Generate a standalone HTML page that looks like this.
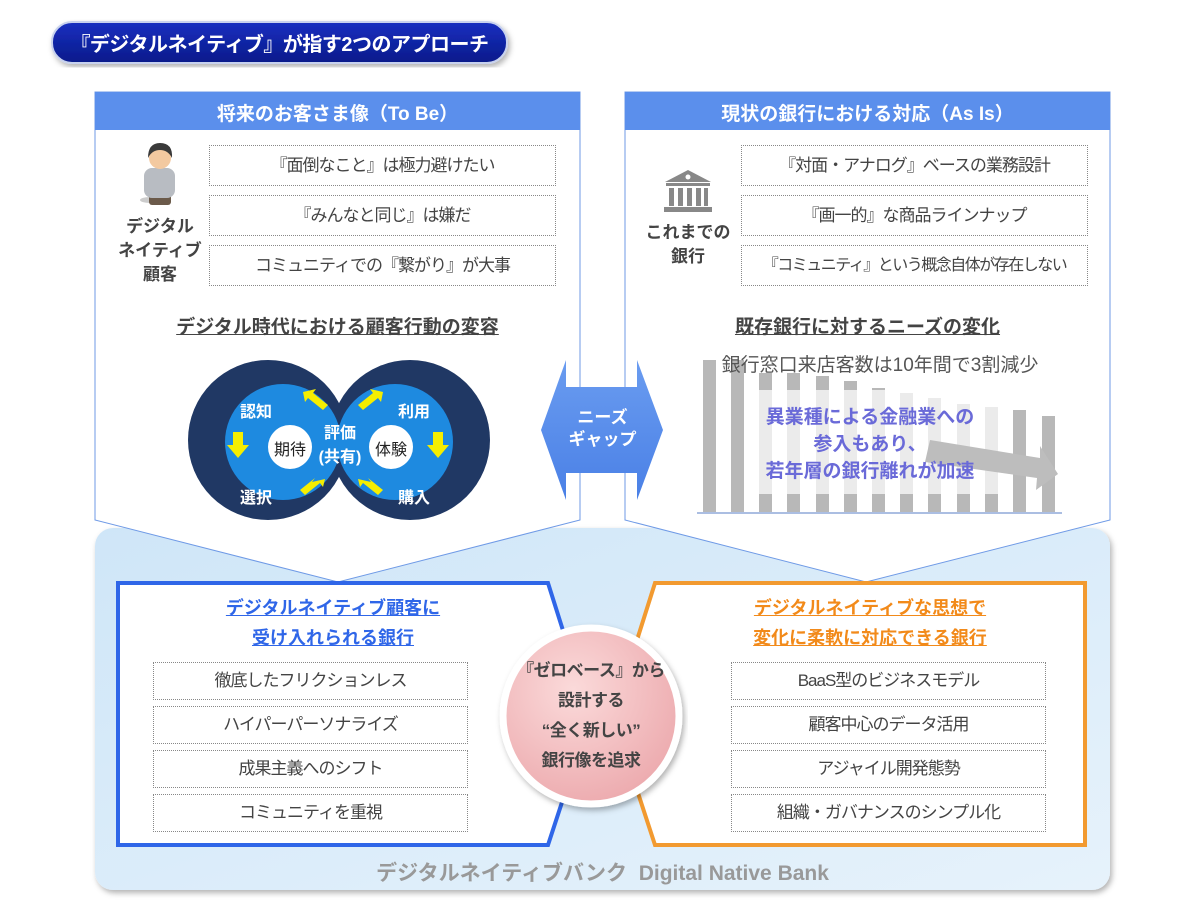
<!DOCTYPE html>
<html><head><meta charset="utf-8">
<style>
*{margin:0;padding:0;box-sizing:border-box}
body{width:1200px;height:913px;background:#fff;position:relative;overflow:hidden;font-family:"Liberation Sans","Noto Sans CJK JP",sans-serif;color:#333}
.a{position:absolute}
.t{position:absolute;white-space:nowrap;text-align:center}
.box{position:absolute;border:1px dotted #888;background:#fff;text-align:center;font-size:17px;color:#444;white-space:nowrap;letter-spacing:-1px}
.b{font-weight:bold}
</style></head><body>
<svg class="a" style="left:0;top:0" width="1200" height="913">
<defs>
<linearGradient id="pill" x1="0" y1="0" x2="0" y2="1"><stop offset="0" stop-color="#1a2fc0"/><stop offset="1" stop-color="#061a8a"/></linearGradient>
<linearGradient id="bg" x1="0" y1="0" x2="1" y2="1"><stop offset="0" stop-color="#cfe6f8"/><stop offset="1" stop-color="#e6f2fb"/></linearGradient>
<radialGradient id="pink" cx="0.4" cy="0.35" r="0.7"><stop offset="0" stop-color="#fbdada"/><stop offset="1" stop-color="#eca9ad"/></radialGradient>
<linearGradient id="arr" x1="0" y1="0" x2="0" y2="1"><stop offset="0" stop-color="#6a9cf0"/><stop offset="1" stop-color="#4a80e6"/></linearGradient>
<filter id="sh" x="-5%" y="-5%" width="110%" height="115%"><feDropShadow dx="2" dy="3" stdDeviation="3" flood-color="#000" flood-opacity="0.3"/></filter>
</defs>
<rect x="52" y="22" width="455" height="41" rx="20" fill="url(#pill)" stroke="#c8d2ee" stroke-width="2" filter="url(#sh)"/>
<rect x="95" y="528" width="1015" height="362" rx="18" fill="url(#bg)" filter="url(#sh)"/>
<polygon points="95,92 580,92 580,520 338,582 95,520" fill="#fff" stroke="#6f9ae6" stroke-width="1"/>
<polygon points="625,92 1110,92 1110,520 866,582 625,520" fill="#fff" stroke="#6f9ae6" stroke-width="1"/>
<rect x="95" y="92" width="485" height="38" fill="#5b8fec"/>
<rect x="625" y="92" width="485" height="38" fill="#5b8fec"/>
<ellipse cx="150" cy="200" rx="10" ry="3" fill="#ccc"/>
<rect x="149" y="193" width="22" height="12" rx="3" fill="#6b5a4a"/>
<rect x="144" y="168" width="31" height="30" rx="8" fill="#b8bcc2"/>
<circle cx="160" cy="158" r="11" fill="#f3c9a0"/>
<path d="M148,158 Q148,143 160,143 Q173,143 172,158 Q168,150 160,150 Q152,150 148,158Z" fill="#3a3a3a"/>
<polygon points="688,170 665,182 711,182" fill="#888"/>
<circle cx="688" cy="177" r="2.5" fill="#fff"/>
<rect x="666" y="183" width="44" height="3" fill="#888"/>
<rect x="669" y="188" width="5" height="18" fill="#888"/><rect x="678" y="188" width="5" height="18" fill="#888"/><rect x="687" y="188" width="5" height="18" fill="#888"/><rect x="696" y="188" width="5" height="18" fill="#888"/><rect x="704" y="188" width="4" height="18" fill="#888"/>
<rect x="664" y="207" width="48" height="5" fill="#888"/>
<circle cx="268" cy="440" r="80" fill="#203864"/>
<circle cx="410" cy="440" r="80" fill="#203864"/>
<circle cx="283" cy="442" r="58" fill="#1e8ae0"/>
<circle cx="395" cy="442" r="58" fill="#1e8ae0"/>
<circle cx="290" cy="447" r="22" fill="#fff"/>
<circle cx="391" cy="447" r="22" fill="#fff"/>
<g fill="#f5ee00">
<polygon points="303,392 316,389 313,393 328,405 323,410 308,398 305,402"/>
<polygon points="383,392 370,389 373,393 358,405 363,410 378,398 381,402"/>
<polygon points="233,432 243,432 243,445 249,445 238,458 227,445 233,445"/>
<polygon points="433,432 443,432 443,445 449,445 438,458 427,445 433,445"/>
<polygon points="325,479 312,482 315,478 300,490 305,495 320,483 323,487"/>
<polygon points="358,479 371,482 368,478 383,490 378,495 363,483 360,487"/>
</g>
<g fill="#b8b8b8">
<rect x="703" y="360" width="13" height="152"/><rect x="731" y="360" width="13" height="152"/>
<rect x="759" y="373" width="13" height="139"/><rect x="787" y="373" width="13" height="139"/>
<rect x="816" y="376" width="13" height="136"/><rect x="844" y="381" width="13" height="131"/>
<rect x="872" y="388" width="13" height="124"/><rect x="900" y="393" width="13" height="119"/>
<rect x="928" y="398" width="13" height="114"/><rect x="957" y="404" width="13" height="108"/>
<rect x="985" y="407" width="13" height="105"/><rect x="1013" y="410" width="13" height="102"/>
<rect x="1042" y="416" width="13" height="96"/>
</g>
<rect x="755" y="390" width="250" height="104" fill="#fff" opacity="0.72"/>
<polygon points="930,440 1040,458 1040,446 1058,474 1036,490 1037,478 925,462" fill="#bdbdbd"/>
<line x1="697" y1="513" x2="1062" y2="513" stroke="#8fa8d8" stroke-width="1.5"/>
<polygon points="541,430 566,360 566,387 637,387 637,360 663,430 637,500 637,473 566,473 566,500" fill="url(#arr)"/>
<polygon points="118,583 548,583 566,640 566,790 548,845 118,845" fill="#fff" stroke="#2f66e8" stroke-width="4"/>
<polygon points="655,583 1085,583 1085,845 655,845 637,790 637,640" fill="#fff" stroke="#f29a30" stroke-width="4"/>
<circle cx="591" cy="716" r="88" fill="url(#pink)" stroke="#fff" stroke-width="7" filter="url(#sh)"/>
</svg>

<div class="t b" style="left:52px;top:28px;width:455px;font-size:20px;color:#fff;letter-spacing:-0.5px">『デジタルネイティブ』が指す2つのアプローチ</div>
<div class="t b" style="left:95px;top:99px;width:485px;font-size:19px;color:#fff">将来のお客さま像（To Be）</div>
<div class="t b" style="left:625px;top:99px;width:485px;font-size:19px;color:#fff">現状の銀行における対応（As Is）</div>

<div class="t b" style="left:110px;top:215px;width:100px;font-size:17px;line-height:24px;color:#444">デジタル<br>ネイティブ<br>顧客</div>
<div class="box" style="left:209px;top:145px;width:347px;height:41px;line-height:39px">『面倒なこと』は極力避けたい</div>
<div class="box" style="left:209px;top:195px;width:347px;height:41px;line-height:39px">『みんなと同じ』は嫌だ</div>
<div class="box" style="left:209px;top:245px;width:347px;height:41px;line-height:39px">コミュニティでの『繋がり』が大事</div>

<div class="t b" style="left:638px;top:221px;width:100px;font-size:17px;line-height:24px;color:#444">これまでの<br>銀行</div>
<div class="box" style="left:741px;top:145px;width:347px;height:41px;line-height:39px">『対面・アナログ』ベースの業務設計</div>
<div class="box" style="left:741px;top:195px;width:347px;height:41px;line-height:39px">『画一的』な商品ラインナップ</div>
<div class="box" style="left:741px;top:245px;width:347px;height:41px;line-height:39px;font-size:16px;letter-spacing:-1.5px">『コミュニティ』という概念自体が存在しない</div>

<div class="t b" style="left:95px;top:312px;width:485px;font-size:19px;color:#444"><u>デジタル時代における顧客行動の変容</u></div>
<div class="t b" style="left:625px;top:312px;width:485px;font-size:19px;color:#444"><u>既存銀行に対するニーズの変化</u></div>

<div class="t b" style="left:240px;top:398px;font-size:16px;color:#fff">認知</div>
<div class="t b" style="left:398px;top:398px;font-size:16px;color:#fff">利用</div>
<div class="t b" style="left:240px;top:484px;font-size:16px;color:#fff">選択</div>
<div class="t b" style="left:398px;top:484px;font-size:16px;color:#fff">購入</div>
<div class="t" style="left:268px;top:436px;width:44px;font-size:16px;color:#222">期待</div>
<div class="t" style="left:369px;top:436px;width:44px;font-size:16px;color:#222">体験</div>
<div class="t b" style="left:312px;top:422px;width:56px;font-size:16px;line-height:24px;color:#fff">評価<br>(共有)</div>

<div class="t" style="left:690px;top:350px;width:380px;font-size:19px;color:#555">銀行窓口来店客数は10年間で3割減少</div>
<div class="t b" style="left:720px;top:404px;width:300px;font-size:19px;line-height:27px;color:#6a6ad8">異業種による金融業への<br>参入もあり、<br>若年層の銀行離れが加速</div>

<div class="t b" style="left:560px;top:407px;width:85px;font-size:17px;line-height:22px;color:#fff">ニーズ<br>ギャップ</div>

<div class="t b" style="left:118px;top:593px;width:430px;font-size:18px;line-height:30px;color:#2f66e8"><u>デジタルネイティブ顧客に</u><br><u>受け入れられる銀行</u></div>
<div class="t b" style="left:655px;top:593px;width:430px;font-size:18px;line-height:30px;color:#f28a1a"><u>デジタルネイティブな思想で</u><br><u>変化に柔軟に対応できる銀行</u></div>

<div class="box" style="left:153px;top:662px;width:315px;height:38px;line-height:36px">徹底したフリクションレス</div>
<div class="box" style="left:153px;top:706px;width:315px;height:38px;line-height:36px">ハイパーパーソナライズ</div>
<div class="box" style="left:153px;top:750px;width:315px;height:38px;line-height:36px">成果主義へのシフト</div>
<div class="box" style="left:153px;top:794px;width:315px;height:38px;line-height:36px">コミュニティを重視</div>

<div class="box" style="left:731px;top:662px;width:315px;height:38px;line-height:36px">BaaS型のビジネスモデル</div>
<div class="box" style="left:731px;top:706px;width:315px;height:38px;line-height:36px">顧客中心のデータ活用</div>
<div class="box" style="left:731px;top:750px;width:315px;height:38px;line-height:36px">アジャイル開発態勢</div>
<div class="box" style="left:731px;top:794px;width:315px;height:38px;line-height:36px">組織・ガバナンスのシンプル化</div>

<div class="t b" style="left:516px;top:656px;width:150px;font-size:17px;line-height:30px;color:#444;letter-spacing:-0.5px">『ゼロベース』から<br>設計する<br>“全く新しい”<br>銀行像を追求</div>

<div class="t b" style="left:95px;top:857px;width:1015px;font-size:21px;color:#999">デジタルネイティブバンク&nbsp;&nbsp;Digital Native Bank</div>
</body></html>
